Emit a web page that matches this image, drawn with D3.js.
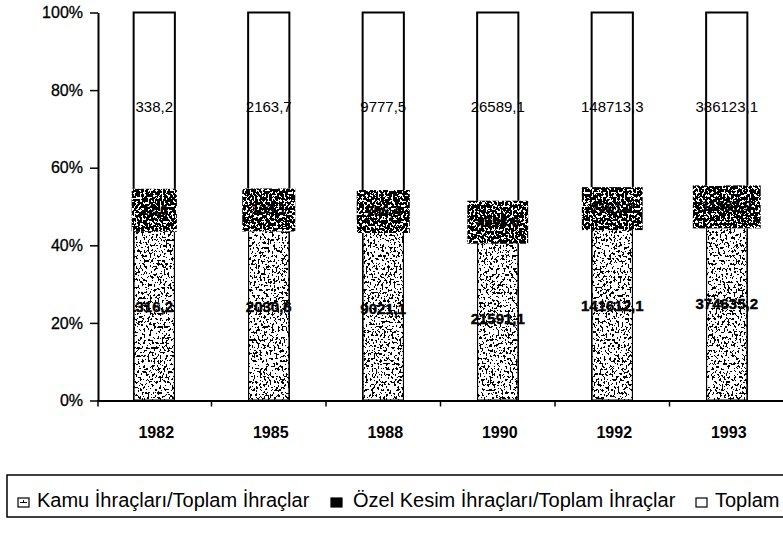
<!DOCTYPE html>
<html>
<head>
<meta charset="utf-8">
<script src="https://cdn.jsdelivr.net/npm/d3@7/dist/d3.min.js"></script>
<style>
  html, body { margin: 0; padding: 0; background: #fff; }
  svg { display: block; font-family: Arial, "Liberation Sans", sans-serif; }
</style>
</head>
<body>
<svg id="chart" width="783" height="533"></svg>
<script>
// Export values by year (public sector, private sector, total)
const years  = ["1982", "1985", "1988", "1990", "1992", "1993"];
const kamu   = [316.2, 2030.6, 9021.1, 21591.1, 141612.1, 374635.2];
const ozel   = [22.0, 133.1, 756.4, 4998.0, 7101.2, 11487.9];
const toplam = [338.2, 2163.7, 9777.5, 26589.1, 148713.3, 386123.1];
const seriesKeys  = ["kamu", "ozel", "toplam"];
const seriesNames = ["Kamu İhraçları/Toplam İhraçlar", "Özel Kesim İhraçları/Toplam İhraçlar", "Toplam"];
const yTicks = [0, 0.2, 0.4, 0.6, 0.8, 1];

const svg = d3.select("#chart");
const rows = years.map((yr, i) => ({ year: yr, kamu: kamu[i], ozel: ozel[i], toplam: toplam[i] }));
const stacked = d3.stack().keys(seriesKeys).offset(d3.stackOffsetExpand)(rows);

const x = d3.scaleBand().domain(years).range([97, 784]).paddingInner(0.64).paddingOuter(0.32);
const y = d3.scaleLinear().domain([0, 1]).range([400.5, 12.5]);

const trFormat = d3.formatLocale({ decimal: ",", thousands: "", grouping: [3], currency: ["", ""] }).format(".1f");

// Speckled textures for the printed fills
const defs = svg.append("defs");
function grain(id, table, freq, seed) {
  const f = defs.append("filter").attr("id", id)
    .attr("x", "0%").attr("y", "0%").attr("width", "100%").attr("height", "100%")
    .attr("color-interpolation-filters", "sRGB");
  f.append("feTurbulence").attr("type", "fractalNoise").attr("baseFrequency", freq)
    .attr("numOctaves", 2).attr("seed", seed).attr("result", "noise");
  f.append("feColorMatrix").attr("in", "noise").attr("type", "matrix")
    .attr("values", "0 0 0 0 0  0 0 0 0 0  0 0 0 0 0  1 0 0 0 0").attr("result", "alpha");
  f.append("feComponentTransfer").attr("in", "alpha").attr("result", "dots")
    .append("feFuncA").attr("type", "discrete").attr("tableValues", table);
  f.append("feComposite").attr("in", "dots").attr("in2", "SourceGraphic")
    .attr("operator", "in").attr("result", "clipped");
  const m = f.append("feMerge");
  m.append("feMergeNode").attr("in", "SourceGraphic");
  m.append("feMergeNode").attr("in", "clipped");
}
grain("grainLight", "0 0 0 0 0 0 0 0 0 0 0 0 1 1 1 1 1 1 1 1 1", "0.5 0.38", 7);
grain("grainDark",  "0 0 0 0 0 0 0 0 0 1 1 1 1 1 1 1 1 1 1 1", "0.5 0.38", 11);

// Bars
const layerStyle = {
  kamu:   { fill: "#ffffff", filter: "url(#grainLight)" },
  ozel:   { fill: "#ffffff", filter: "url(#grainDark)" },
  toplam: { fill: "#ffffff", filter: null }
};
const gBars = svg.append("g");
stacked.forEach(layer => {
  gBars.selectAll(null).data(layer).enter().append("rect")
    .attr("x", d => x(d.data.year))
    .attr("y", d => y(d[1]))
    .attr("width", x.bandwidth())
    .attr("height", d => y(d[0]) - y(d[1]))
    .attr("fill", layerStyle[layer.key].fill)
    .attr("filter", layerStyle[layer.key].filter)
    .attr("stroke", "#000")
    .attr("stroke-width", 2);
});

// Axes
const yAxis = d3.axisLeft(y).tickValues(yTicks).tickFormat(d3.format(".0%"))
  .tickSize(8).tickSizeOuter(0).tickPadding(7);
const gy = svg.append("g").attr("transform", "translate(98,0)").call(yAxis);
gy.select(".domain").attr("stroke-width", 2);
gy.selectAll(".tick line").attr("stroke-width", 1.5);
gy.selectAll(".tick text").attr("font-size", 16).attr("fill", "#000")
  .attr("font-family", "Arial, 'Liberation Sans', sans-serif")
  .attr("stroke", "#000").attr("stroke-width", 0.3);

const xAxis = d3.axisBottom(x).tickSize(0).tickPadding(26).tickSizeOuter(0);
const gx = svg.append("g").attr("transform", `translate(0,${y(0)})`).call(xAxis);
gx.select(".domain").attr("stroke-width", 2);
gx.selectAll(".tick text").attr("font-size", 16).attr("font-weight", "bold").attr("fill", "#000")
  .attr("font-family", "Arial, 'Liberation Sans', sans-serif").attr("dx", 2);

// Category separators under the axis
const boundaries = years.map((yr, i) => i === 0 ? x.range()[0] + 1 : x(yr) - x.step() * x.paddingInner() / 2);
svg.append("g").selectAll("line").data(boundaries).enter().append("line")
  .attr("x1", d => d).attr("x2", d => d)
  .attr("y1", y(0)).attr("y2", y(0) + 6)
  .attr("stroke", "#000").attr("stroke-width", 1.5);

// Value labels
const gLab = svg.append("g").attr("font-family", "Arial, 'Liberation Sans', sans-serif")
  .attr("font-size", 15).attr("text-anchor", "middle").attr("fill", "#000");
const cx = d => x(d.data.year) + x.bandwidth() / 2;
const mid = d => (y(d[0]) + y(d[1])) / 2;

// private-sector labels sit on a boxed, speckled background
stacked[1].forEach(d => {
  const g = gLab.append("g");
  const box = g.append("rect");
  const t = g.append("text").attr("x", cx(d)).attr("y", mid(d) - 3)
    .attr("dominant-baseline", "central").attr("font-weight", "bold")
    .attr("font-size", 14).text(trFormat(d.data.ozel));
  const w = t.node().getComputedTextLength() + 18;
  box.attr("x", cx(d) - w / 2).attr("y", mid(d) - 24).attr("width", w).attr("height", 43)
    .attr("fill", "#ffffff").attr("filter", "url(#grainDark)");
  t.raise();
});
stacked[0].forEach(d => {
  gLab.append("text").attr("x", cx(d)).attr("y", mid(d) - 3)
    .attr("dominant-baseline", "central").attr("font-weight", "bold")
    .attr("stroke", "#000").attr("stroke-width", 0.4)
    .text(trFormat(d.data.kamu));
});
stacked[2].forEach(d => {
  gLab.append("text").attr("x", cx(d)).attr("y", mid(d) - 3)
    .attr("dominant-baseline", "central")
    .text(trFormat(d.data.toplam));
});

// Legend
const legend = svg.append("g").attr("font-family", "Arial, 'Liberation Sans', sans-serif")
  .attr("font-size", 20).attr("fill", "#000");
legend.append("rect").attr("x", 7).attr("y", 475).attr("width", 820).attr("height", 42)
  .attr("fill", "none").attr("stroke", "#000").attr("stroke-width", 1.5);
const legendItems = [
  { key: "kamu",   iconX: 18,  textX: 37 },
  { key: "ozel",   iconX: 331, textX: 353 },
  { key: "toplam", iconX: 696, textX: 715 }
];
legendItems.forEach((it, i) => {
  const gi = legend.append("g");
  gi.append("rect").attr("x", it.iconX).attr("y", 498).attr("width", 11).attr("height", 9)
    .attr("fill", it.key === "ozel" ? "#000" : "#fff")
    .attr("stroke", "#000").attr("stroke-width", 1.2);
  if (it.key === "kamu") {
    gi.append("line").attr("x1", it.iconX + 2).attr("x2", it.iconX + 9)
      .attr("y1", 502.5).attr("y2", 502.5).attr("stroke", "#000").attr("stroke-width", 1);
    gi.append("line").attr("x1", it.iconX + 5.5).attr("x2", it.iconX + 5.5)
      .attr("y1", 500).attr("y2", 502.5).attr("stroke", "#000").attr("stroke-width", 1);
  }
  gi.append("text").attr("x", it.textX).attr("y", 507).text(seriesNames[i]);
});
</script>
</body>
</html>
